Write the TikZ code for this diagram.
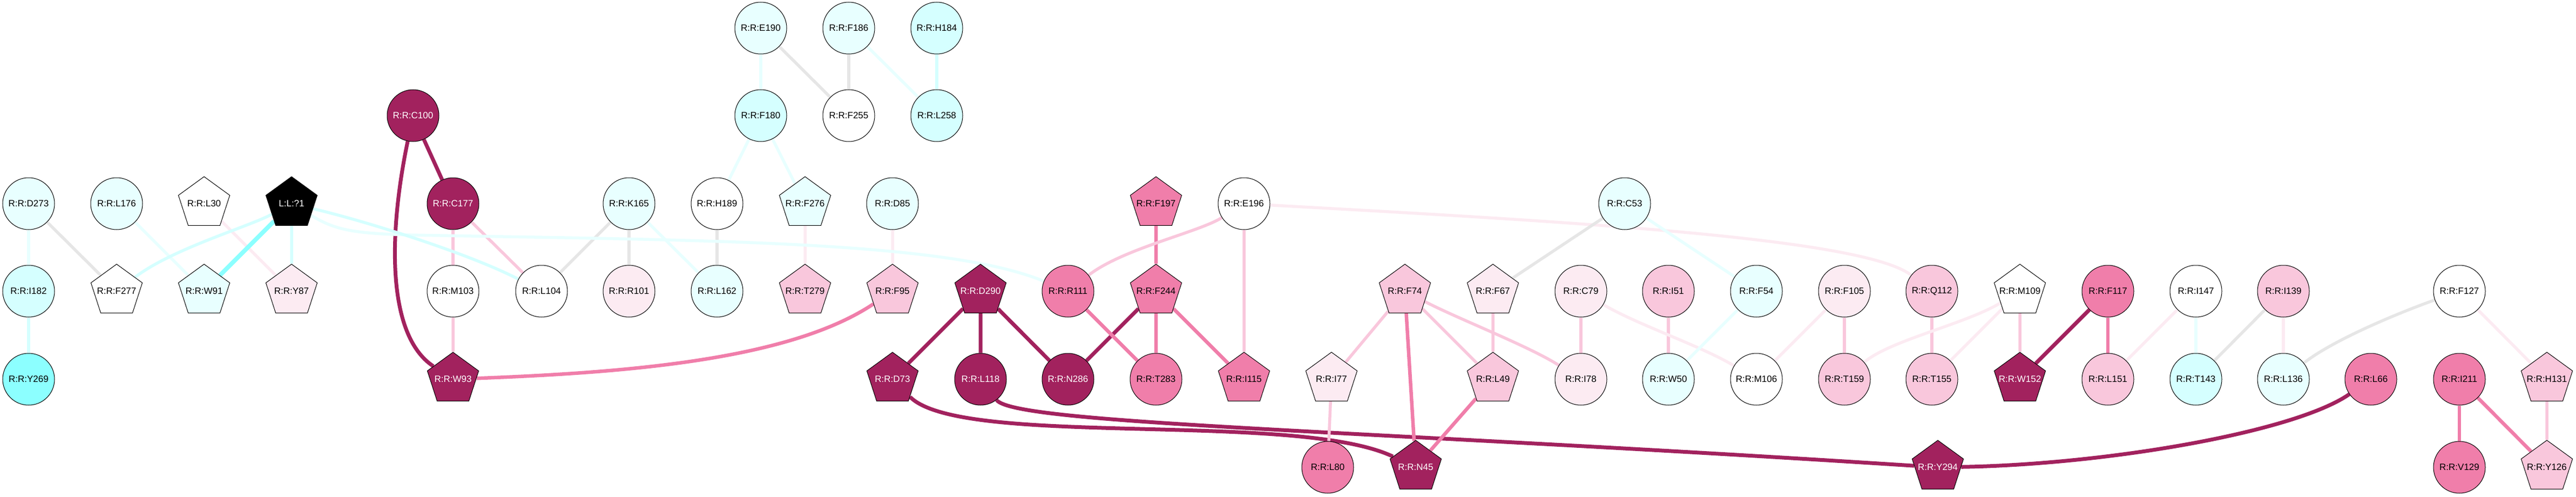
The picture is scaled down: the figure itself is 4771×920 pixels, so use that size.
\documentclass[tikz,border=0pt]{standalone}
\usepackage{fontspec}
\setmainfont{Liberation Sans}
\usetikzlibrary{shapes.geometric, backgrounds}
\definecolor{rpurple}{HTML}{A2225E}
\definecolor{rpink}{HTML}{F07EAA}
\definecolor{rrose}{HTML}{F9C7DC}
\definecolor{rblush}{HTML}{FCEBF2}
\definecolor{rice}{HTML}{E8FFFF}
\definecolor{raqua}{HTML}{D5FFFF}
\definecolor{rcyan}{HTML}{8CFFFF}
\definecolor{rgrey}{HTML}{E6E6E6}
\tikzset{res/.style = {circle, draw, line width=1pt, minimum size=96pt, inner sep=0pt, font=\fontsize{17}{19}\selectfont}}
\tikzset{pent/.style = {res, regular polygon, regular polygon sides=5, inner sep=-14pt, minimum size=100pt}}
\tikzset{dark/.style = {fill=rpurple, text=white}}
\tikzset{ewide/.style = {line width=7pt, rpurple}, epink/.style = {line width=6.5pt, rpink}}
\tikzset{erose/.style = {line width=5.5pt, rrose}, eblush/.style = {line width=5.5pt, rblush}}
\tikzset{egrey/.style = {line width=5.5pt, rgrey}, eice/.style = {line width=5.5pt, rice}}
\tikzset{eaqua/.style = {line width=5.5pt, raqua}, ecyan/.style = {line width=8pt, rcyan}}

\begin{document}
\begin{tikzpicture}[x=1pt, y=-1pt]
\useasboundingbox (0,0) rectangle (4771,920);
\node[res, fill=rice] (E190) at (1409,52) {R:R:E190};
\node[res, fill=rice] (F186) at (1572,52) {R:R:F186};
\node[res, fill=raqua] (H184) at (1735,52) {R:R:H184};
\node[res, dark] (C100) at (765,214) {R:R:C100};
\node[res, fill=raqua] (F180) at (1409,214) {R:R:F180};
\node[res, fill=white] (F255) at (1572,214) {R:R:F255};
\node[res, fill=raqua] (L258) at (1735,214) {R:R:L258};
\node[res, fill=rice] (D273) at (53,377) {R:R:D273};
\node[res, fill=rice] (L176) at (216,377) {R:R:L176};
\node[pent, fill=white] (L30) at (378,377) {R:R:L30};
\node[pent, fill=black, text=white] (Lig) at (540,377) {L:L:?1};
\node[res, dark] (C177) at (839,377) {R:R:C177};
\node[res, fill=rice] (K165) at (1165,377) {R:R:K165};
\node[res, fill=white] (H189) at (1328,377) {R:R:H189};
\node[pent, fill=rice] (F276) at (1491,377) {R:R:F276};
\node[res, fill=rice] (D85) at (1653,377) {R:R:D85};
\node[pent, fill=rpink] (F197) at (2141,377) {R:R:F197};
\node[res, fill=white] (E196) at (2304,377) {R:R:E196};
\node[res, fill=rice] (C53) at (3009,377) {R:R:C53};
\node[res, fill=raqua] (I182) at (53,539) {R:R:I182};
\node[pent, fill=white] (F277) at (216,539) {R:R:F277};
\node[pent, fill=rice] (W91) at (378,539) {R:R:W91};
\node[pent, fill=rblush] (Y87) at (540,539) {R:R:Y87};
\node[res, fill=white] (M103) at (839,539) {R:R:M103};
\node[res, fill=white] (L104) at (1003,539) {R:R:L104};
\node[res, fill=rblush] (R101) at (1165,539) {R:R:R101};
\node[res, fill=rice] (L162) at (1328,539) {R:R:L162};
\node[pent, fill=rrose] (T279) at (1491,539) {R:R:T279};
\node[pent, fill=rrose] (F95) at (1653,539) {R:R:F95};
\node[pent, dark] (D290) at (1816,539) {R:R:D290};
\node[res, fill=rpink] (R111) at (1978,539) {R:R:R111};
\node[pent, fill=rpink] (F244) at (2141,539) {R:R:F244};
\node[pent, fill=rrose] (F74) at (2602,539) {R:R:F74};
\node[pent, fill=rblush] (F67) at (2765,539) {R:R:F67};
\node[res, fill=rblush] (C79) at (2928,539) {R:R:C79};
\node[res, fill=rrose] (I51) at (3090,539) {R:R:I51};
\node[res, fill=rice] (F54) at (3253,539) {R:R:F54};
\node[res, fill=rblush] (F105) at (3416,539) {R:R:F105};
\node[res, fill=rrose] (Q112) at (3578,539) {R:R:Q112};
\node[pent, fill=white] (M109) at (3741,539) {R:R:M109};
\node[res, fill=rpink] (F117) at (3904,539) {R:R:F117};
\node[res, fill=white] (I147) at (4067,539) {R:R:I147};
\node[res, fill=rrose] (I139) at (4229,539) {R:R:I139};
\node[res, fill=white] (F127) at (4555,539) {R:R:F127};
\node[res, fill=rcyan] (Y269) at (53,702) {R:R:Y269};
\node[pent, dark] (W93) at (839,702) {R:R:W93};
\node[pent, dark] (D73) at (1653,702) {R:R:D73};
\node[res, dark] (L118) at (1816,702) {R:R:L118};
\node[res, dark] (N286) at (1978,702) {R:R:N286};
\node[res, fill=rpink] (T283) at (2141,702) {R:R:T283};
\node[pent, fill=rpink] (I115) at (2304,702) {R:R:I115};
\node[pent, fill=rblush] (I77) at (2466,702) {R:R:I77};
\node[pent, fill=rrose] (L49) at (2765,702) {R:R:L49};
\node[res, fill=rblush] (I78) at (2928,702) {R:R:I78};
\node[res, fill=rice] (W50) at (3090,702) {R:R:W50};
\node[res, fill=white] (M106) at (3253,702) {R:R:M106};
\node[res, fill=rrose] (T159) at (3416,702) {R:R:T159};
\node[res, fill=rrose] (T155) at (3578,702) {R:R:T155};
\node[pent, dark] (W152) at (3741,702) {R:R:W152};
\node[res, fill=rrose] (L151) at (3904,702) {R:R:L151};
\node[res, fill=raqua] (T143) at (4067,702) {R:R:T143};
\node[res, fill=rice] (L136) at (4229,702) {R:R:L136};
\node[res, fill=rpink] (L66) at (4391,702) {R:R:L66};
\node[res, fill=rpink] (I211) at (4555,702) {R:R:I211};
\node[pent, fill=rrose] (H131) at (4717,702) {R:R:H131};
\node[res, fill=rpink] (L80) at (2459,865) {R:R:L80};
\node[pent, dark] (N45) at (2622,865) {R:R:N45};
\node[pent, dark] (Y294) at (3589,865) {R:R:Y294};
\node[res, fill=rpink] (V129) at (4555,865) {R:R:V129};
\node[pent, fill=rrose] (Y126) at (4717,865) {R:R:Y126};
\begin{scope}[on background layer]
\draw[ewide] (C100) -- (C177);
\draw[ewide] (C100) .. controls (720,430) and (715,620) .. (W93);
\draw[ewide] (D290) -- (D73);
\draw[ewide] (D290) -- (L118);
\draw[ewide] (D290) -- (N286);
\draw[ewide] (F244) -- (N286);
\draw[ewide] (F117) -- (W152);
\draw[ewide] (D73) .. controls (1780,830) and (2400,760) .. (N45);
\draw[ewide] (L118) .. controls (1880,785) and (2500,795) .. (Y294);
\draw[ewide] (Y294) .. controls (3900,860) and (4250,800) .. (L66);
\draw[epink] (W93) .. controls (1150,690) and (1460,668) .. (F95);
\draw[epink] (F197) -- (F244);
\draw[epink] (F244) -- (T283);
\draw[epink] (F244) -- (I115);
\draw[epink] (R111) -- (T283);
\draw[epink] (F74) -- (N45);
\draw[epink] (L49) -- (N45);
\draw[epink] (F117) -- (L151);
\draw[epink] (I211) -- (V129);
\draw[epink] (I211) -- (Y126);
\draw[erose] (C177) -- (M103);
\draw[erose] (C177) -- (L104);
\draw[erose] (M103) -- (W93);
\draw[erose] (E196) .. controls (2220,430) and (2080,460) .. (R111);
\draw[erose] (E196) -- (I115);
\draw[erose] (F74) -- (I77);
\draw[erose] (F74) -- (L49);
\draw[erose] (F74) .. controls (2700,590) and (2830,640) .. (I78);
\draw[erose] (I77) -- (L80);
\draw[erose] (F67) -- (L49);
\draw[erose] (C79) -- (I78);
\draw[erose] (I51) -- (W50);
\draw[erose] (F105) -- (T159);
\draw[erose] (Q112) -- (T155);
\draw[erose] (M109) -- (W152);
\draw[erose] (H131) -- (Y126);
\draw[eblush] (L30) -- (Y87);
\draw[eblush] (F276) -- (T279);
\draw[eblush] (D85) -- (F95);
\draw[eblush] (E196) .. controls (2900,410) and (3450,440) .. (Q112);
\draw[eblush] (C79) .. controls (3030,600) and (3150,640) .. (M106);
\draw[eblush] (F105) -- (M106);
\draw[eblush] (M109) -- (T155);
\draw[eblush] (M109) .. controls (3640,600) and (3500,630) .. (T159);
\draw[eblush] (I147) -- (L151);
\draw[eblush] (I139) -- (L136);
\draw[eblush] (F127) -- (H131);
\draw[egrey] (D273) -- (F277);
\draw[egrey] (K165) -- (L104);
\draw[egrey] (K165) -- (R101);
\draw[egrey] (H189) -- (L162);
\draw[egrey] (E190) -- (F255);
\draw[egrey] (F186) -- (F255);
\draw[egrey] (C53) -- (F67);
\draw[egrey] (I139) -- (T143);
\draw[egrey] (F127) .. controls (4440,580) and (4320,630) .. (L136);
\draw[eice] (D273) -- (I182);
\draw[eice] (L176) -- (W91);
\draw[eice] (K165) -- (L162);
\draw[eice] (E190) -- (F180);
\draw[eice] (F186) -- (L258);
\draw[eice] (F180) -- (H189);
\draw[eice] (F180) -- (F276);
\draw[eice] (C53) -- (F54);
\draw[eice] (F54) -- (W50);
\draw[eice] (I147) -- (T143);
\draw[eice] (Lig) .. controls (620,425) and (650,432) .. (760,435) .. controls (1300,445) and (1750,445) .. (R111);
\draw[eaqua] (I182) -- (Y269);
\draw[eaqua] (H184) -- (L258);
\draw[eaqua] (Lig) -- (Y87);
\draw[eaqua] (Lig) .. controls (460,420) and (320,460) .. (F277);
\draw[eaqua] (Lig) .. controls (680,410) and (870,470) .. (L104);
\draw[ecyan] (Lig) -- (W91);
\end{scope}
\end{tikzpicture}
\end{document}
